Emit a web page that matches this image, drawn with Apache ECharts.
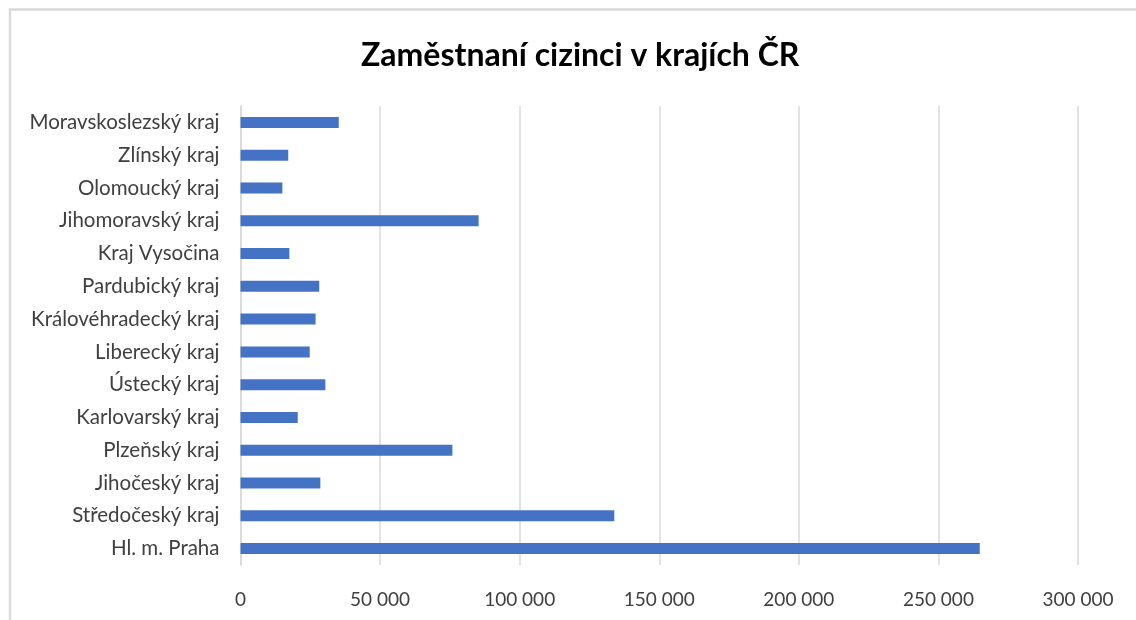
<!DOCTYPE html>
<html>
<head>
<meta charset="utf-8">
<script src="https://cdn.jsdelivr.net/npm/echarts@6/dist/echarts.min.js"></script>
<style>html,body{margin:0;padding:0;background:#fff;}#chart{width:1136px;height:620px;}</style>
</head>
<body>
<div id="chart"></div>
<script>
const titleText = 'Zaměstnaní cizinci v krajích ČR';
const categories = ['Hl. m. Praha', 'Středočeský kraj', 'Jihočeský kraj', 'Plzeňský kraj', 'Karlovarský kraj', 'Ústecký kraj', 'Liberecký kraj', 'Královéhradecký kraj', 'Pardubický kraj', 'Kraj Vysočina', 'Jihomoravský kraj', 'Olomoucký kraj', 'Zlínský kraj', 'Moravskoslezský kraj'];
const values = [264800, 133900, 28600, 75900, 20500, 30400, 24800, 26900, 28200, 17500, 85300, 15000, 17100, 35200];
const axisMin = 0, axisMax = 300000, axisStep = 50000;

const fmt = v => String(v).replace(/\B(?=(\d{3})+(?!\d))/g, ' ');
const chart = echarts.init(document.getElementById('chart'), null, {renderer: 'canvas'});
chart.setOption({
  animation: false,
  backgroundColor: '#fff',
  title: {
    text: titleText, left: 356, top: 35,
    textStyle: {fontFamily: 'Lato', fontWeight: 'bold', fontSize: 32, color: '#000'}
  },
  graphic: [{type: 'rect', shape: {x: 10, y: 9.5, width: 1300, height: 800}, style: {fill: 'none', stroke: '#d9d9d9', lineWidth: 2.5}, silent: true}],
  grid: {left: 240.5, right: 58, top: 106, bottom: 55, containLabel: false},
  xAxis: {
    type: 'value', min: axisMin, max: axisMax, interval: axisStep,
    axisLine: {show: false}, axisTick: {show: false},
    splitLine: {show: true, lineStyle: {color: '#d9d9d9', width: 1.5}},
    axisLabel: {formatter: fmt, color: '#404040', fontFamily: 'Lato', fontSize: 19, margin: 25}
  },
  yAxis: {
    type: 'category', data: categories,
    axisLine: {show: true, lineStyle: {color: '#d9d9d9', width: 1.5}},
    axisTick: {show: false},
    axisLabel: {color: '#404040', fontFamily: 'Lato', fontSize: 20.5, margin: 21}
  },
  series: [{type: 'bar', data: values, barWidth: 11, itemStyle: {color: '#4472C4'}}]
});
</script>
</body>
</html>
